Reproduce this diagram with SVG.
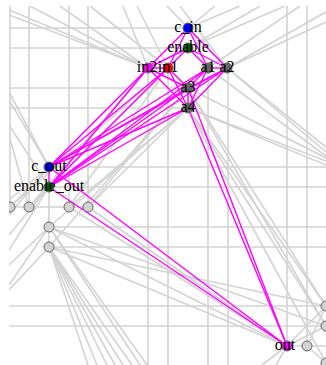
<svg xmlns="http://www.w3.org/2000/svg" width="326" height="365" viewBox="0 0 326 365">
<defs>
<style>
.g line{stroke:#d3d3d3;stroke-width:1.6;fill:none}
.m line{stroke:#ff00ff;stroke-width:1.4;fill:none}
.n{stroke:#666;stroke-width:1}
.gn{fill:#d3d3d3}
.lab{font-family:"Liberation Serif","Times New Roman",serif;font-size:16px;fill:#000;text-anchor:middle}
</style>
<clipPath id="view"><rect x="9" y="6" width="317" height="359"/></clipPath>
</defs>
<rect width="326" height="365" fill="#fff"/>
<g clip-path="url(#view)">
<g id="connectors">
<g class="g">
<line x1="10" y1="6" x2="10" y2="207"/><line x1="29" y1="6" x2="29" y2="207"/>
<line x1="69" y1="6" x2="69" y2="207"/><line x1="88" y1="6" x2="88" y2="207"/>
<line x1="148" y1="68" x2="148" y2="365"/><line x1="168" y1="68" x2="168" y2="365"/>
<line x1="208" y1="68" x2="208" y2="365"/><line x1="228" y1="68" x2="228" y2="365"/>
<line x1="287" y1="6" x2="287" y2="346"/><line x1="307" y1="6" x2="307" y2="346"/>
<line x1="49" y1="187" x2="49" y2="247"/>
<line x1="9" y1="28" x2="188" y2="28"/><line x1="9" y1="48" x2="188" y2="48"/>
<line x1="9" y1="88" x2="188" y2="88"/><line x1="9" y1="108" x2="188" y2="108"/>
<line x1="49" y1="167" x2="326" y2="167"/><line x1="49" y1="187" x2="326" y2="187"/>
<line x1="9" y1="207" x2="88" y2="207"/>
<line x1="49" y1="227" x2="326" y2="227"/><line x1="49" y1="247" x2="326" y2="247"/>
<line x1="9" y1="306" x2="326" y2="306"/><line x1="9" y1="326" x2="326" y2="326"/>
<line x1="287" y1="346" x2="326" y2="346"/>
<line x1="9" y1="10" x2="148" y2="68"/><line x1="9" y1="15" x2="148" y2="68"/>
<line x1="30" y1="6" x2="148" y2="68"/><line x1="60" y1="6" x2="148" y2="68"/>
<line x1="90" y1="6" x2="168" y2="68"/><line x1="123" y1="6" x2="148" y2="68"/>
<line x1="137" y1="6" x2="168" y2="68"/>
<line x1="167" y1="6" x2="227" y2="68"/><line x1="180" y1="6" x2="227" y2="68"/>
<line x1="215" y1="6" x2="188" y2="28"/><line x1="240" y1="6" x2="188" y2="28"/>
<line x1="260" y1="6" x2="188" y2="48"/><line x1="285" y1="6" x2="188" y2="48"/>
<line x1="300" y1="6" x2="208" y2="68"/><line x1="326" y1="12" x2="227" y2="68"/>
<line x1="326" y1="22" x2="227" y2="68"/>
<line x1="227" y1="68" x2="326" y2="147"/><line x1="227" y1="68" x2="326" y2="152"/>
<line x1="208" y1="68" x2="326" y2="156"/><line x1="188" y1="88" x2="326" y2="158"/>
<line x1="188" y1="108" x2="326" y2="161"/><line x1="188" y1="108" x2="326" y2="165"/>
<line x1="188" y1="88" x2="326" y2="306"/><line x1="188" y1="108" x2="326" y2="306"/>
<line x1="188" y1="108" x2="326" y2="326"/><line x1="188" y1="88" x2="326" y2="326"/>
<line x1="188" y1="108" x2="326" y2="363"/>
<line x1="9" y1="92" x2="49" y2="167"/><line x1="9" y1="100" x2="49" y2="167"/>
<line x1="9" y1="125" x2="49" y2="187"/><line x1="9" y1="135" x2="29" y2="207"/>
<line x1="9" y1="200" x2="49" y2="167"/><line x1="9" y1="215" x2="49" y2="167"/>
<line x1="9" y1="235" x2="49" y2="187"/><line x1="9" y1="250" x2="49" y2="187"/>
<line x1="10" y1="207" x2="148" y2="68"/><line x1="29" y1="207" x2="148" y2="68"/>
<line x1="29" y1="207" x2="168" y2="68"/><line x1="10" y1="207" x2="168" y2="68"/>
<line x1="69" y1="207" x2="188" y2="108"/><line x1="88" y1="207" x2="188" y2="108"/>
<line x1="88" y1="207" x2="188" y2="88"/><line x1="49" y1="227" x2="188" y2="108"/>
<line x1="69" y1="207" x2="168" y2="68"/><line x1="49" y1="247" x2="188" y2="88"/>
<line x1="49" y1="247" x2="88" y2="365"/><line x1="49" y1="247" x2="97" y2="365"/>
<line x1="49" y1="247" x2="107" y2="365"/><line x1="49" y1="247" x2="115" y2="365"/>
<line x1="49" y1="247" x2="123" y2="365"/><line x1="49" y1="247" x2="132" y2="365"/>
<line x1="49" y1="227" x2="140" y2="365"/><line x1="49" y1="227" x2="147" y2="365"/>
<line x1="9" y1="265" x2="49" y2="227"/><line x1="9" y1="285" x2="49" y2="227"/>
<line x1="9" y1="290" x2="49" y2="247"/>
<line x1="49" y1="227" x2="287" y2="346"/><line x1="49" y1="247" x2="287" y2="346"/>
<line x1="69" y1="207" x2="287" y2="346"/><line x1="88" y1="207" x2="287" y2="346"/>
<line x1="49" y1="247" x2="326" y2="306"/><line x1="49" y1="227" x2="326" y2="326"/>
<line x1="287" y1="346" x2="326" y2="306"/><line x1="287" y1="346" x2="326" y2="326"/>
<line x1="307" y1="346" x2="326" y2="306"/><line x1="307" y1="346" x2="326" y2="363"/>
<line x1="287" y1="346" x2="262" y2="365"/><line x1="287" y1="346" x2="276" y2="365"/>
</g>
<g class="m">
<line x1="188" y1="28" x2="148" y2="68"/><line x1="188" y1="28" x2="168" y2="68"/>
<line x1="188" y1="28" x2="208" y2="68"/><line x1="188" y1="28" x2="227" y2="68"/>
<line x1="188" y1="48" x2="148" y2="68"/><line x1="188" y1="48" x2="168" y2="68"/>
<line x1="188" y1="48" x2="208" y2="68"/><line x1="188" y1="48" x2="227" y2="68"/>
<line x1="148" y1="68" x2="168" y2="68"/><line x1="208" y1="68" x2="227" y2="68"/>
<line x1="148" y1="68" x2="188" y2="88"/><line x1="148" y1="68" x2="188" y2="108"/>
<line x1="168" y1="68" x2="188" y2="88"/><line x1="168" y1="68" x2="188" y2="108"/>
<line x1="208" y1="68" x2="188" y2="88"/><line x1="208" y1="68" x2="188" y2="108"/>
<line x1="227" y1="68" x2="188" y2="88"/><line x1="227" y1="68" x2="188" y2="108"/>
<line x1="188" y1="88" x2="188" y2="108"/>
<line x1="148" y1="68" x2="49" y2="167"/><line x1="148" y1="68" x2="49" y2="187"/>
<line x1="168" y1="68" x2="49" y2="167"/><line x1="168" y1="68" x2="49" y2="187"/>
<line x1="208" y1="68" x2="49" y2="167"/><line x1="208" y1="68" x2="49" y2="187"/>
<line x1="227" y1="68" x2="49" y2="167"/><line x1="227" y1="68" x2="49" y2="187"/>
<line x1="188" y1="88" x2="49" y2="167"/><line x1="188" y1="88" x2="49" y2="187"/>
<line x1="188" y1="108" x2="49" y2="167"/><line x1="188" y1="108" x2="49" y2="187"/>
<line x1="49" y1="167" x2="49" y2="187"/>
<line x1="188" y1="88" x2="287" y2="346"/><line x1="188" y1="108" x2="287" y2="346"/>
<line x1="49" y1="167" x2="287" y2="346"/><line x1="49" y1="187" x2="287" y2="346"/>
</g>
</g>
<g id="gray-nodes" class="n gn">
<circle id="g1" cx="10" cy="207" r="5"/><circle id="g2" cx="29" cy="207" r="5"/>
<circle id="g3" cx="69" cy="207" r="5"/><circle id="g4" cx="88" cy="207" r="5"/>
<circle id="g5" cx="49" cy="227" r="5"/><circle id="g6" cx="49" cy="247" r="5"/>
<circle id="g7" cx="307" cy="346" r="5"/><circle id="g8" cx="326" cy="306" r="5"/>
<circle id="g9" cx="326" cy="326" r="5"/><circle id="g10" cx="326" cy="363" r="5"/>
</g>
<g id="c_in"><circle class="n" cx="188" cy="28" r="5" fill="#0000ff"/><text class="lab" x="188" y="32">c_in</text></g>
<g id="enable"><circle class="n" cx="188" cy="48" r="5" fill="#006400"/><text class="lab" x="188" y="52">enable</text></g>
<g id="in2"><circle class="n" cx="148" cy="68" r="5" fill="#ff00ff"/><text class="lab" x="147" y="72">in2</text></g>
<g id="in1"><circle class="n" cx="168" cy="68" r="5" fill="#ff0000"/><text class="lab" x="168" y="72">in1</text></g>
<g id="a1"><circle class="n" cx="208" cy="68" r="5" fill="#666"/><text class="lab" x="208" y="72">a1</text></g>
<g id="a2"><circle class="n" cx="227" cy="68" r="5" fill="#666"/><text class="lab" x="227" y="72">a2</text></g>
<g id="a3"><circle class="n" cx="188" cy="88" r="5" fill="#666"/><text class="lab" x="188" y="92">a3</text></g>
<g id="a4"><circle class="n" cx="188" cy="108" r="5" fill="#666"/><text class="lab" x="188" y="112">a4</text></g>
<g id="c_out"><circle class="n" cx="49" cy="167" r="5" fill="#0000ff"/><text class="lab" x="49" y="171">c_out</text></g>
<g id="enable_out"><circle class="n" cx="49" cy="187" r="5" fill="#006400"/><text class="lab" x="49" y="191">enable_out</text></g>
<g id="out"><circle class="n" cx="287" cy="346" r="5" fill="#ff00ff"/><text class="lab" x="285" y="350">out</text></g>
</g>
</svg>
